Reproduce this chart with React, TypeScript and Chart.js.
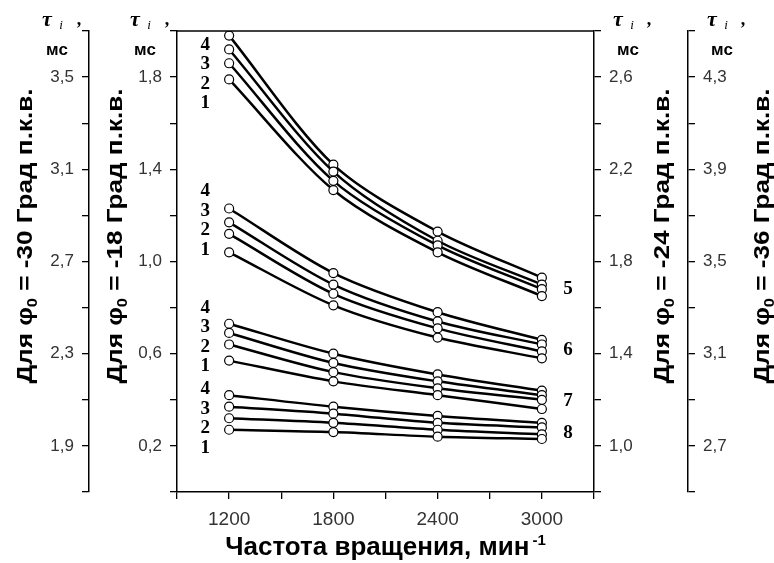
import React, { useEffect, useRef } from "react";
import { Chart, registerables } from "chart.js";

Chart.register(...registerables);

// Частота вращения, мин^-1
const rpm = [1200, 1800, 2400, 3000];
const xTickLabels = [1200, 1800, 2400, 3000];

// Group 5 — read on axis φ0 = -18 (inner left), lines 1..4
const g5_1 = [1.79, 1.31, 1.04, 0.85];
const g5_2 = [1.86, 1.35, 1.07, 0.88];
const g5_3 = [1.92, 1.39, 1.09, 0.9];
const g5_4 = [1.98, 1.42, 1.13, 0.93];

// Group 6 — read on axis φ0 = -24 (inner right)
const g6_1 = [1.84, 1.61, 1.47, 1.38];
const g6_2 = [1.92, 1.66, 1.51, 1.41];
const g6_3 = [1.97, 1.7, 1.54, 1.44];
const g6_4 = [2.03, 1.75, 1.58, 1.46];

// Group 7 — read on axis φ0 = -30 (outer left)
const g7_1 = [2.27, 2.18, 2.12, 2.06];
const g7_2 = [2.34, 2.22, 2.15, 2.1];
const g7_3 = [2.39, 2.26, 2.18, 2.12];
const g7_4 = [2.43, 2.3, 2.21, 2.14];

// Group 8 — read on axis φ0 = -36 (outer right)
const g8_1 = [2.77, 2.76, 2.74, 2.73];
const g8_2 = [2.82, 2.8, 2.77, 2.75];
const g8_3 = [2.87, 2.84, 2.8, 2.78];
const g8_4 = [2.92, 2.87, 2.83, 2.8];

// Axis tick labels
const ticksL2 = [1.9, 2.3, 2.7, 3.1, 3.5]; // φ0 = -30
const ticksL1 = [0.2, 0.6, 1.0, 1.4, 1.8]; // φ0 = -18
const ticksR1 = [1.0, 1.4, 1.8, 2.2, 2.6]; // φ0 = -24
const ticksR2 = [2.7, 3.1, 3.5, 3.9, 4.3]; // φ0 = -36

const lineNames = ["1", "2", "3", "4"];
const groupNames = ["5", "6", "7", "8"];
const axisAngles = ["-30", "-18", "-24", "-36"];

const groups = [
  { axis: "yL1", lines: [g5_1, g5_2, g5_3, g5_4] },
  { axis: "yR1", lines: [g6_1, g6_2, g6_3, g6_4] },
  { axis: "yL2", lines: [g7_1, g7_2, g7_3, g7_4] },
  { axis: "yR2", lines: [g8_1, g8_2, g8_3, g8_4] },
];

// pixel offset of label "4" relative to line-4 first point, per group
const leftLabelOffsets = [9, -17, -16, -6];

const fmt = (v: number) => v.toFixed(1).replace(".", ",");
const labelCb = (list: number[]) => (value: any) => {
  const r = Math.round(Number(value) * 10);
  return list.some((l) => Math.round(l * 10) === r) ? fmt(Number(value)) : "";
};

const SANS = '"Liberation Sans", Arial, sans-serif';
const SERIF = '"Liberation Serif", "Times New Roman", serif';

function drawRotTitle(ctx: CanvasRenderingContext2D, cx: number, cy: number, angle: string, length: number) {
  const font = `bold 22px ${SANS}`;
  const subFont = `bold 14px ${SANS}`;
  const parts = [
    { t: "Для φ", f: font, dy: 0 },
    { t: "0", f: subFont, dy: 5 },
    { t: ` = ${angle} Град п.к.в.`, f: font, dy: 0 },
  ];
  let w = 0;
  const ws: number[] = [];
  for (const p of parts) {
    ctx.font = p.f;
    const m = ctx.measureText(p.t).width;
    ws.push(m);
    w += m;
  }
  ctx.save();
  ctx.translate(cx, cy);
  ctx.rotate(-Math.PI / 2);
  ctx.scale(length / w, 1);
  ctx.fillStyle = "#000";
  ctx.textAlign = "left";
  ctx.textBaseline = "alphabetic";
  let x = -w / 2;
  parts.forEach((p, i) => {
    ctx.font = p.f;
    ctx.fillText(p.t, x, 8 + p.dy);
    x += ws[i];
  });
  ctx.restore();
}

function drawUnit(ctx: CanvasRenderingContext2D, ax: number, side: number) {
  // side: -1 left axis, +1 right axis
  ctx.save();
  ctx.fillStyle = "#000";
  ctx.textAlign = "center";
  ctx.textBaseline = "alphabetic";
  const tauX = side < 0 ? ax - 42 : ax + 24;
  const iX = side < 0 ? ax - 28 : ax + 38;
  const cX = side < 0 ? ax - 10 : ax + 55;
  const msX = side < 0 ? ax - 32 : ax + 34;
  ctx.font = `italic bold 22px ${SERIF}`;
  ctx.fillText("τ", tauX, 26);
  ctx.font = `italic 13px ${SERIF}`;
  ctx.fillText("i", iX, 29);
  ctx.font = `bold 18px ${SERIF}`;
  ctx.fillText(",", cX, 25);
  ctx.font = `bold 17px ${SANS}`;
  ctx.fillText("мс", msX, 55);
  ctx.restore();
}

const decorPlugin = {
  id: "decor",
  afterDraw(chart: any) {
    const ctx: CanvasRenderingContext2D = chart.ctx;
    const { left, right, top } = chart.chartArea;
    const sc = chart.scales;
    ctx.save();
    // top frame line
    ctx.strokeStyle = "#000";
    ctx.lineWidth = 1.5;
    ctx.beginPath();
    ctx.moveTo(left, top);
    ctx.lineTo(right, top);
    ctx.stroke();

    // axis titles
    const titleCy = 236;
    drawRotTitle(ctx, sc.yL2.right - 65, titleCy, axisAngles[0], 295);
    drawRotTitle(ctx, sc.yL1.right - 63, titleCy, axisAngles[1], 295);
    drawRotTitle(ctx, sc.yR1.left + 67, titleCy, axisAngles[2], 295);
    drawRotTitle(ctx, sc.yR2.left + 73, titleCy, axisAngles[3], 295);

    // units
    drawUnit(ctx, sc.yL2.right, -1);
    drawUnit(ctx, sc.yL1.right, -1);
    drawUnit(ctx, sc.yR1.left, 1);
    drawUnit(ctx, sc.yR2.left, 1);

    // x title
    const cx = (left + right) / 2;
    const main = "Частота вращения, мин";
    const sup = "-1";
    ctx.font = `bold 26px ${SANS}`;
    const wm = ctx.measureText(main).width;
    ctx.font = `bold 15px ${SANS}`;
    const ws = ctx.measureText(sup).width;
    const x0 = cx - (wm + ws + 3) / 2;
    ctx.fillStyle = "#000";
    ctx.textAlign = "left";
    ctx.textBaseline = "alphabetic";
    ctx.font = `bold 26px ${SANS}`;
    ctx.fillText(main, x0, 555);
    ctx.font = `bold 15px ${SANS}`;
    ctx.fillText(sup, x0 + wm + 3, 545);

    // line number labels
    ctx.font = `bold 19px ${SERIF}`;
    ctx.textAlign = "center";
    ctx.textBaseline = "middle";
    const xs = sc.x;
    groups.forEach((g, gi) => {
      const ys = sc[g.axis];
      const y4 = ys.getPixelForValue(g.lines[3][0]);
      const lx = xs.getPixelForValue(rpm[0]) - 24;
      for (let k = 0; k < 4; k++) {
        ctx.fillText(lineNames[3 - k], lx, y4 + leftLabelOffsets[gi] + k * 19.5);
      }
      const last = rpm.length - 1;
      let m = 0;
      g.lines.forEach((l) => (m += ys.getPixelForValue(l[last])));
      m /= g.lines.length;
      ctx.fillText(groupNames[gi], xs.getPixelForValue(rpm[last]) + 26, m + 2);
    });
    ctx.restore();
  },
};

const yAxis = (min: number, position: string, weight: number, list: number[], width: number) => ({
  type: "linear",
  position,
  weight,
  min,
  max: min + 2,
  afterFit: (s: any) => {
    s.width = width;
  },
  ticks: {
    stepSize: 0.2,
    autoSkip: false,
    padding: 8,
    color: "#333",
    font: { family: SANS, size: 17 },
    callback: labelCb(list),
  },
  grid: {
    drawOnChartArea: false,
    drawTicks: true,
    tickLength: 7,
    color: "#000",
    lineWidth: 1.3,
  },
  border: { display: true, color: "#000", width: 1.5 },
});

export default function App() {
  const ref = useRef<HTMLCanvasElement | null>(null);
  useEffect(() => {
    if (!ref.current) return;
    const datasets: any[] = [];
    groups.forEach((g, gi) => {
      g.lines.forEach((l, li) => {
        datasets.push({
          label: `${groupNames[gi]}-${lineNames[li]}`,
          data: rpm.map((x, i) => ({ x, y: l[i] })),
          yAxisID: g.axis,
          borderColor: "#000",
          borderWidth: 2.5,
          pointRadius: 4.5,
          pointBackgroundColor: "#fff",
          pointBorderColor: "#000",
          pointBorderWidth: 1.2,
          tension: 0.3,
          fill: false,
        });
      });
    });
    const chart = new Chart(ref.current, {
      type: "line",
      data: { datasets },
      options: {
        animation: false,
        responsive: false,
        maintainAspectRatio: false,
        layout: { padding: { top: 31, left: 0, right: 0, bottom: 0 } },
        plugins: { legend: { display: false }, tooltip: { enabled: false } },
        scales: {
          x: {
            type: "linear",
            position: "bottom",
            min: 900,
            max: 3300,
            afterFit: (s: any) => {
              s.height = 71;
            },
            ticks: {
              stepSize: 300,
              autoSkip: false,
              maxRotation: 0,
              padding: 9,
              color: "#333",
              font: { family: SANS, size: 19 },
              callback: (v: any) => (xTickLabels.includes(Number(v)) ? String(v) : ""),
            },
            grid: {
              drawOnChartArea: false,
              drawTicks: true,
              tickLength: 7,
              color: "#000",
              lineWidth: 1.3,
            },
            border: { display: true, color: "#000", width: 1.5 },
          },
          yL2: yAxis(1.7, "left", 1, ticksL2, 89),
          yL1: yAxis(0, "left", 0, ticksL1, 88),
          yR1: yAxis(0.8, "right", 0, ticksR1, 94),
          yR2: yAxis(2.5, "right", 1, ticksR2, 86),
        } as any,
      },
      plugins: [decorPlugin as any],
    });
    return () => chart.destroy();
  }, []);
  return (
    <div style={{ position: "fixed", left: 0, top: 0, width: 774, height: 563, background: "#fff" }}>
      <canvas ref={ref} width={774} height={563} style={{ display: "block", width: 774, height: 563 }} />
    </div>
  );
}
